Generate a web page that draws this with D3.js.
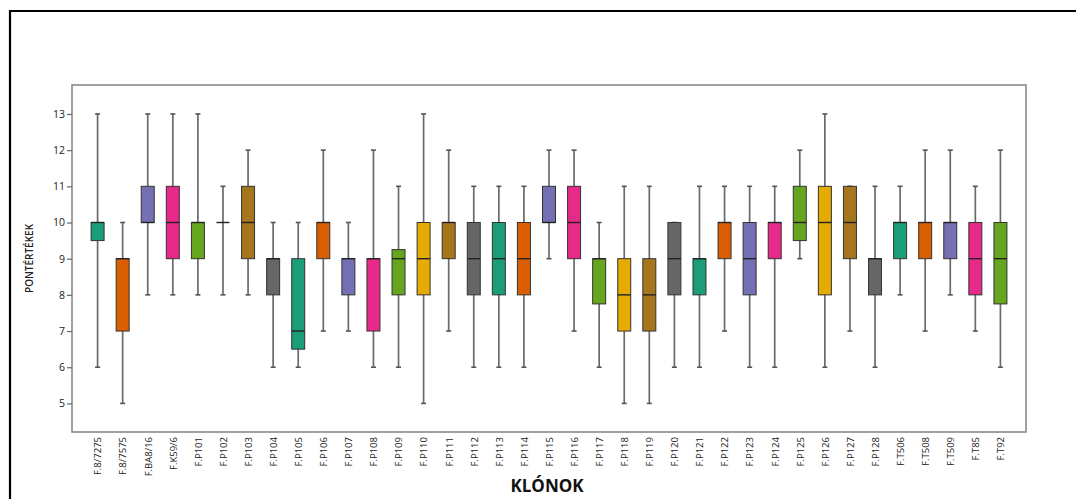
<!DOCTYPE html>
<html><head><meta charset="utf-8">
<script src="https://cdn.jsdelivr.net/npm/d3@7"></script>
<style>body{margin:0;background:#fff}svg{display:block}</style>
</head><body><svg id="c" width="1076" height="499"></svg>
<script>
const categories = ["F.8/7275","F.8/7575","F.BA8/16","F.K59/6","F.P101","F.P102","F.P103","F.P104","F.P105","F.P106","F.P107","F.P108","F.P109","F.P110","F.P111","F.P112","F.P113","F.P114","F.P115","F.P116","F.P117","F.P118","F.P119","F.P120","F.P121","F.P122","F.P123","F.P124","F.P125","F.P126","F.P127","F.P128","F.T506","F.T508","F.T509","F.T85","F.T92"];
const minV = [6,5,8,8,8,8,8,6,6,7,7,6,6,5,7,6,6,6,9,7,6,5,5,6,6,7,6,6,9,6,7,6,8,7,8,7,6];
const q1V  = [9.5,7,10,9,9,10,9,8,6.5,9,8,7,8,8,9,8,8,8,10,9,7.75,7,7,8,8,9,8,9,9.5,8,9,8,9,9,9,8,7.75];
const medV = [10,9,10,10,10,10,10,9,7,10,9,9,9,9,10,9,9,9,10,10,9,8,8,9,9,10,9,10,10,10,10,9,10,10,10,9,9];
const q3V  = [10,9,11,11,10,10,11,9,9,10,9,9,9.25,10,10,10,10,10,11,11,9,9,9,10,9,10,10,10,11,11,11,9,10,10,10,10,10];
const maxV = [13,10,13,13,13,11,12,10,10,12,10,12,11,13,12,11,11,11,12,12,10,11,11,10,11,11,11,11,12,13,11,11,11,12,12,11,12];
const yTicks = [5,6,7,8,9,10,11,12,13];

const svg = d3.select("#c");
const L = 72, R = 1026, T = 85, B = 432;
const x = d3.scalePoint().domain(categories).range([L, R]).padding(1.02);
const y = d3.scaleLinear().domain([4.21, 13.8]).range([B, T]);
const color = d3.scaleOrdinal().domain(categories).range(d3.schemeDark2);

// outer frame (partially visible)
svg.append("path").attr("d", "M10,499V11H1076").attr("fill","none").attr("stroke","#000").attr("stroke-width",2.2);

const data = categories.map((c,i)=>({c, min:minV[i], q1:q1V[i], med:medV[i], q3:q3V[i], max:maxV[i]}));
const bw = 13, cap = 5;
const g = svg.append("g");
const bx = g.selectAll("g.b").data(data).join("g");
bx.append("line").attr("x1",d=>x(d.c)).attr("x2",d=>x(d.c)).attr("y1",d=>y(d.min)).attr("y2",d=>y(d.max))
  .attr("stroke","#6a6a6a").attr("stroke-width",1.7);
bx.append("line").attr("x1",d=>x(d.c)-cap/2).attr("x2",d=>x(d.c)+cap/2).attr("y1",d=>y(d.min)).attr("y2",d=>y(d.min))
  .attr("stroke","#555").attr("stroke-width",1.6);
bx.append("line").attr("x1",d=>x(d.c)-cap/2).attr("x2",d=>x(d.c)+cap/2).attr("y1",d=>y(d.max)).attr("y2",d=>y(d.max))
  .attr("stroke","#555").attr("stroke-width",1.6);
bx.filter(d=>d.q3>d.q1).append("rect").attr("x",d=>x(d.c)-bw/2).attr("width",bw)
  .attr("y",d=>y(d.q3)).attr("height",d=>y(d.q1)-y(d.q3))
  .attr("fill",d=>color(d.c)).attr("stroke","#333").attr("stroke-width",1);
bx.append("line").attr("x1",d=>x(d.c)-bw/2).attr("x2",d=>x(d.c)+bw/2).attr("y1",d=>y(d.med)).attr("y2",d=>y(d.med))
  .attr("stroke","#222").attr("stroke-width",1.4);

// plot frame
svg.append("rect").attr("x",L).attr("y",T).attr("width",R-L).attr("height",B-T)
  .attr("fill","none").attr("stroke","#8a8a8a").attr("stroke-width",1.6);

// y axis
const ya = svg.append("g").attr("transform",`translate(${L},0)`)
  .call(d3.axisLeft(y).tickValues(yTicks).tickSize(5).tickPadding(2).tickFormat(d3.format("d")));
ya.select(".domain").remove();
ya.selectAll(".tick line").attr("stroke","#666").attr("stroke-width",1.2);
ya.selectAll(".tick text").attr("fill","#222").style("font-family","'Open Sans'").style("font-size","10.5px");

// x axis labels
const xa = svg.append("g").attr("transform",`translate(0,${B})`)
  .call(d3.axisBottom(x).tickSize(0).tickPadding(0));
xa.select(".domain").remove();
xa.selectAll(".tick text").attr("transform","rotate(-90)").attr("x",-5).attr("y",0).attr("dy","0.35em")
  .attr("text-anchor","end").attr("fill","#222").style("font-family","'Open Sans'").style("font-size","9.5px");

// titles
svg.append("text").attr("transform",`translate(33,${(T+B)/2}) rotate(-90)`).attr("text-anchor","middle")
  .style("font-family","'Open Sans'").style("font-size","10px").style("font-weight","600").attr("fill","#222").text("PONTÉRTÉKEK");
svg.append("text").attr("x",547).attr("y",492).attr("text-anchor","middle")
  .style("font-family","'Open Sans'").style("font-size","17px").style("font-weight","700").attr("fill","#111").text("KLÓNOK");
</script></body></html>
